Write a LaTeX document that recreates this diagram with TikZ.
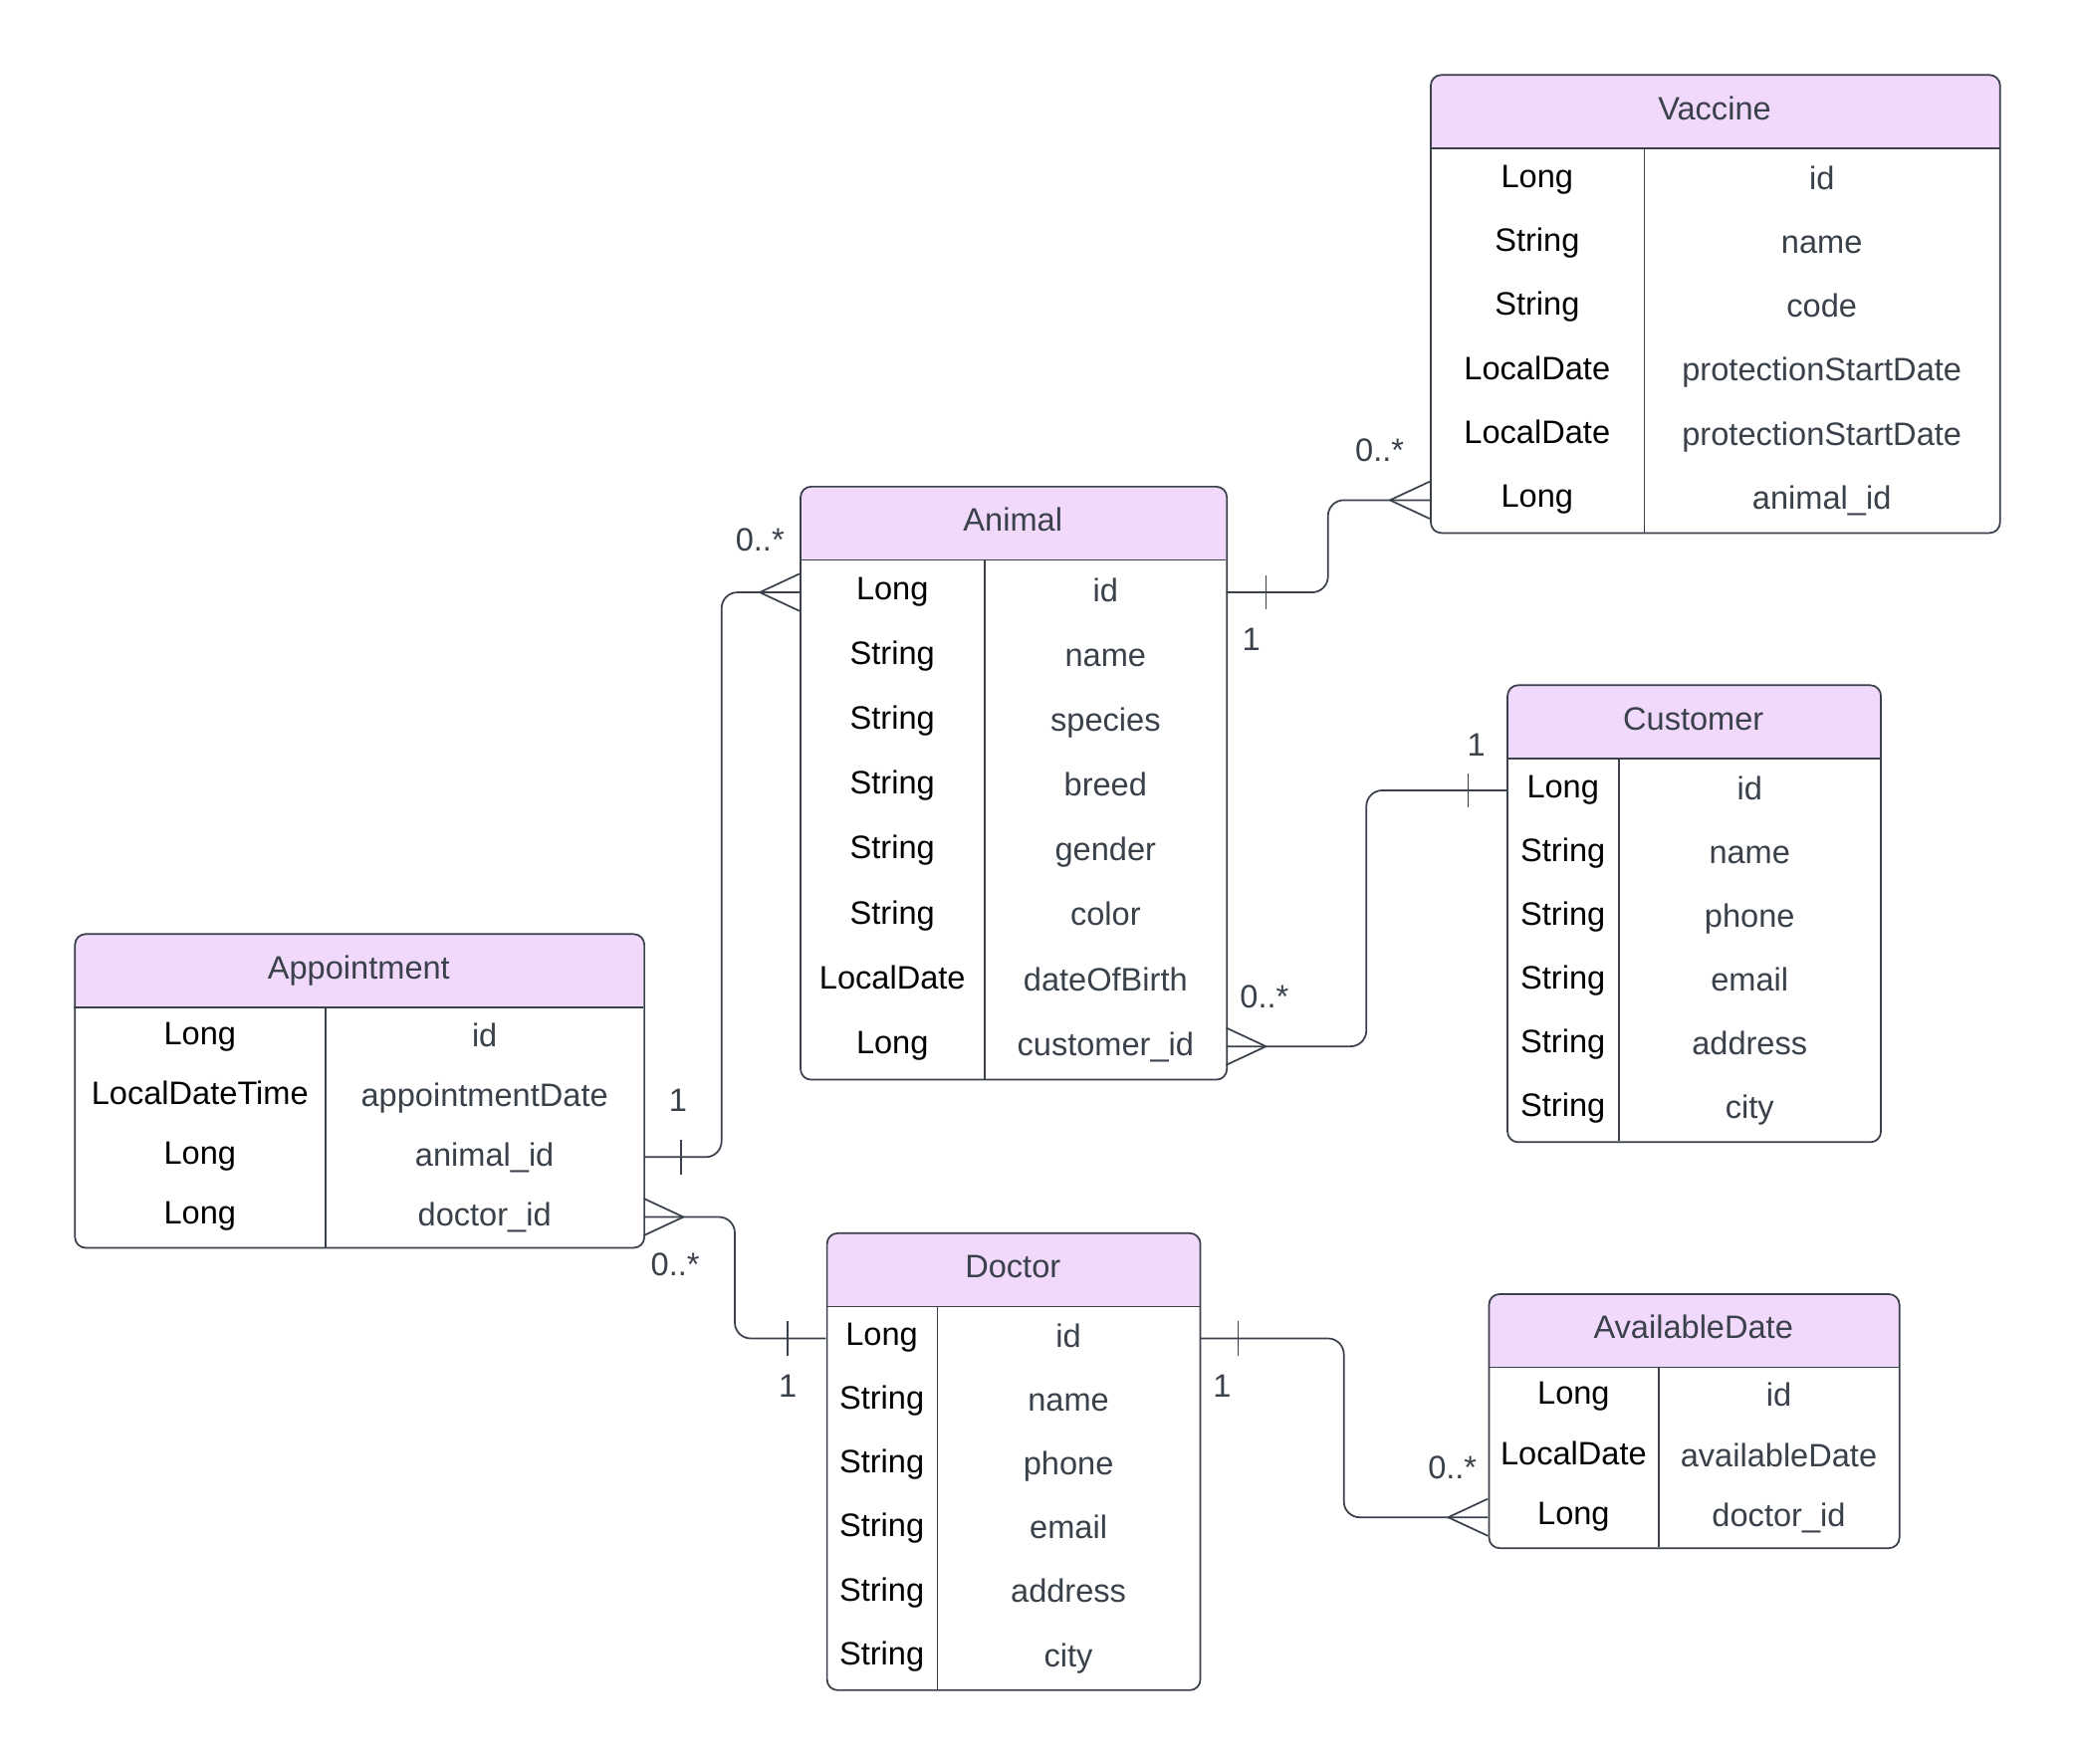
\documentclass[tikz,border=0pt]{standalone}
\usepackage{fontspec}
\setmainfont{Liberation Sans}
\usetikzlibrary{calc}

\definecolor{edgecol}{HTML}{3A414A}
\definecolor{headfill}{HTML}{F1D9FC}
\definecolor{fieldcol}{HTML}{3A414A}

\tikzset{
  cellfont/.style={font=\fontsize{24.5}{29}\selectfont},
  tablebox/.style={draw=edgecol, line width=1.3pt, rounded corners=8pt, inner sep=0pt},
  rule/.style={draw=edgecol, line width=1.3pt},
  headtext/.style={cellfont, text=fieldcol, inner sep=0pt, text height=0.934em, text depth=0.066em},
  typecell/.style={cellfont, text=black, inner sep=0pt, text height=0.893em, text depth=0.107em},
  fieldcell/.style={cellfont, text=fieldcol, inner sep=0pt, text height=0.934em, text depth=0.066em},
  conn/.style={draw=edgecol, line width=1.3pt},
  mult/.style={cellfont, text=fieldcol, inner sep=0pt},
}

% #1 name, #2 title, #3 left, #4 top, #5 right, #6 column divider,
% #7 row height, #8 number of rows, #9 list of type/field pairs
\newcommand\ertable[9]{%
  \fill[headfill] (#3,#4+56) [rounded corners=8pt] -- (#3,#4) -- (#5,#4) [sharp corners] -- (#5,#4+56) -- cycle;
  \node[tablebox, minimum width=#5-#3, minimum height=56+#7*#8, anchor=north west] (#1) at (#3,#4) {};
  \draw[rule] (#3,#4+56) -- (#5,#4+56);
  \draw[rule] (#6,#4+56) -- (#6,#4+56+#7*#8);
  \node[headtext] (#1-head) at ({(#3+#5)/2},#4+28) {\raisebox{-2pt}{#2}};
  \foreach \t/\f [count=\i] in {#9} {
    \node[typecell, minimum width=#6-#3, minimum height=#7] (#1-t\i)
      at ({(#3+#6)/2},{#4+56+(\i-0.5)*#7}) {\raisebox{-1.5pt}{\t}};
    \node[fieldcell, minimum width=#5-#6, minimum height=#7] (#1-f\i)
      at ({(#6+#5)/2},{#4+56+(\i-0.5)*#7}) {\raisebox{-2.5pt}{\f}};
  }%
}

% crow's foot at an attachment point; #2 = -1 opens to the left, 1 to the right
\newcommand\crowfoot[2]{%
  \draw[conn] ($(#1)+(#2*30,0)$) -- ($(#1)+(0,-14)$)
              ($(#1)+(#2*30,0)$) -- ($(#1)+(0,14)$);}
% single bar at a given horizontal offset from an attachment point
\newcommand\onebar[2]{%
  \draw[conn] ($(#1)+(#2,-13)$) -- ($(#1)+(#2,13)$);}

% orthogonal connector with a vertical leg halfway between the end points
\newcommand\elbow[3]{%
  \path (#1) -- (#2) coordinate[pos=0.5] (#3);
  \draw[conn, rounded corners=12pt] (#1) -- (#1 -| #3) -- (#2 -| #3) -- (#2);}

\begin{document}
\begin{tikzpicture}[x=1pt,y=-1pt]
\fill[white] (0,0) rectangle (1568,1332.6);
\useasboundingbox (0,0) rectangle (1568,1332.6);

\ertable{vacc}{Vaccine}{1080}{56}{1510}{1242}{48.33}{6}%
  {Long/id, String/name, String/code, LocalDate/protectionStartDate,
   LocalDate/protectionStartDate, Long/animal\_id}

\ertable{anml}{Animal}{604}{367}{926}{744}{49}{8}%
  {Long/id, String/name, String/species, String/breed, String/gender,
   String/color, LocalDate/dateOfBirth, Long/customer\_id}

\ertable{cust}{Customer}{1138}{517}{1420}{1223}{48.2}{6}%
  {Long/id, String/name, String/phone, String/email, String/address, String/city}

\ertable{appt}{Appointment}{56}{705}{486}{246}{45.25}{4}%
  {Long/id, LocalDateTime/appointmentDate, Long/animal\_id, Long/doctor\_id}

\ertable{doct}{Doctor}{624}{931}{906}{708}{48.2}{6}%
  {Long/id, String/name, String/phone, String/email, String/address, String/city}

\ertable{avdt}{AvailableDate}{1124}{977}{1434}{1253}{45.3}{3}%
  {Long/id, LocalDate/availableDate, Long/doctor\_id}

% Animal 1 -- 0..* Vaccine
\elbow{anml-f1.east}{vacc-t6.west}{m1}
\onebar{anml-f1.east}{30}
\crowfoot{vacc-t6.west}{-1}
\node[mult] (l1a) at (945,483) {1};
\node[mult] (l1b) at (1042,340) {0..*};

% Appointment 1 -- 0..* Animal
\elbow{appt-f3.east}{anml-t1.west}{m2}
\onebar{appt-f3.east}{28}
\crowfoot{anml-t1.west}{-1}
\node[mult] (l2a) at (512,831) {1};
\node[mult] (l2b) at (574,408) {0..*};

% Animal 0..* -- 1 Customer
\elbow{anml-f8.east}{cust-t1.west}{m3}
\crowfoot{anml-f8.east}{1}
\onebar{cust-t1.west}{-29}
\node[mult] (l3a) at (955,753) {0..*};
\node[mult] (l3b) at (1115,563) {1};

% Appointment 0..* -- 1 Doctor
\elbow{appt-f4.east}{doct-t1.west}{m4}
\crowfoot{appt-f4.east}{1}
\onebar{doct-t1.west}{-29}
\node[mult] (l4a) at (510,955) {0..*};
\node[mult] (l4b) at (595,1047) {1};

% Doctor 1 -- 0..* AvailableDate
\elbow{doct-f1.east}{avdt-t3.west}{m5}
\onebar{doct-f1.east}{29}
\crowfoot{avdt-t3.west}{-1}
\node[mult] (l5a) at (923,1047) {1};
\node[mult] (l5b) at (1097,1109) {0..*};
\end{tikzpicture}
\end{document}
